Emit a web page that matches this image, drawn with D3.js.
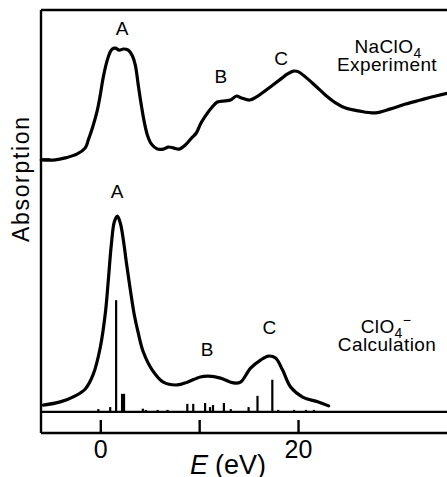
<!DOCTYPE html>
<html>
<head>
<meta charset="utf-8">
<script src="https://cdn.jsdelivr.net/npm/d3@7/dist/d3.min.js"></script>
<style>
  html, body { margin: 0; padding: 0; background: #fff; }
  svg { display: block; }
  text { font-family: "Liberation Sans", Arial, Helvetica, sans-serif; fill: #000; }
</style>
</head>
<body>
<svg id="chart" width="447" height="477"></svg>
<script>
// ---- Data ----
// Experimental spectrum (NaClO4): energy (eV) and absorption (arb. units)
const expE = [-5.97,-4.55,-3.54,-2.33,-1.52,-1.21,-0.81,-0.30,0.0,0.30,0.71,1.01,1.21,1.52,1.92,2.33,2.83,3.24,3.54,3.84,4.15,4.45,4.76,5.16,5.77,6.37,6.88,7.38,7.99,8.60,9.21,9.71,10.12,10.62,11.23,11.84,12.66,13.17,13.78,14.29,15.10,15.81,16.51,17.42,18.24,18.94,19.55,20.06,20.77,21.78,22.79,23.80,24.81,26.12,27.84,29.36,30.88,32.40,33.92,35.13];
const expA = [62.7,62.7,63.2,64.2,65.7,67.7,70.6,75.1,78.9,83.3,87.6,89.6,90.3,90.5,90.0,90.3,90.0,88.6,86.3,81.3,76.3,72.1,68.9,66.7,65.4,65.4,65.9,65.7,65.4,66.4,68.1,69.4,71.6,73.6,75.6,77.1,77.4,77.6,78.6,78.1,77.6,78.4,79.6,81.3,82.8,84.1,84.8,84.6,83.3,81.1,78.8,76.9,75.6,74.9,74.4,75.4,76.6,77.6,78.6,79.3];

// Calculated spectrum (ClO4-): broadened curve
const calcE = [-5.77,-4.05,-2.53,-1.52,-0.71,0.0,0.51,0.81,1.11,1.42,1.72,2.02,2.33,2.63,3.04,3.44,3.84,4.35,5.26,6.37,7.79,8.80,10.12,10.93,12.16,13.48,14.18,15.20,16.21,17.02,17.73,18.44,19.25,20.47,21.99,23.10];
const calcA = [1.7,2.5,4.0,5.7,9.4,16.1,24.6,32.8,41.5,47.3,48.7,47.0,42.8,37.3,30.3,24.1,19.6,14.9,10.4,7.4,6.7,7.4,8.7,8.9,8.4,7.2,7.4,10.9,12.9,13.9,13.4,10.4,6.2,3.7,2.5,1.5];

// Calculated transitions (stick spectrum)
const stickE = [-0.2,1.0,1.6,2.2,2.4,4.3,4.6,5.8,6.8,8.8,9.4,10.6,11.1,11.4,12.5,13.2,15.0,15.9,17.4,18.0,19.6,20.8,21.6];
const stickA = [0.7,1.2,27.8,4.5,4.5,0.8,0.5,0.5,0.5,2.0,2.0,2.2,1.2,1.7,2.2,0.7,1.2,4.0,8.0,0.5,0.5,0.5,0.5];

// Peak labels
const expPeakLabels = ["A","B","C"];
const expPeakE = [2.2, 12.2, 18.3];
const expPeakA = [93.7, 81.8, 86.3];
const calcPeakLabels = ["A","B","C"];
const calcPeakE = [1.7, 10.8, 17.1];
const calcPeakA = [53.2, 14.0, 19.5];

// Axis ticks
const xTicks = [0, 10, 20];
const xTickLabels = ["0", "", "20"];
const yTicks = [63];

// ---- Scales ----
const svg = d3.select("#chart");
const x = d3.scaleLinear().domain([-6, 35.07]).range([41, 447]);
const y = d3.scaleLinear().domain([-5.25, 100]).range([433, 10]);

// ---- Frame ----
const frame = svg.append("g").attr("fill", "none").attr("stroke", "#000").attr("stroke-width", 2.4);
frame.append("line").attr("x1", x(-6)).attr("x2", x(-6)).attr("y1", y(100)).attr("y2", y(-5.25));
frame.append("line").attr("x1", x(-6)).attr("x2", x(36)).attr("y1", y(100)).attr("y2", y(100));
frame.append("line").attr("x1", x(-6)).attr("x2", x(36)).attr("y1", y(-5.25)).attr("y2", y(-5.25));

// Bottom axis (ticks inward)
const xAxis = d3.axisBottom(x).tickValues(xTicks).tickSize(-13)
  .tickFormat((d, i) => xTickLabels[i]);
const gx = svg.append("g").attr("transform", `translate(0,${y(-5.25)})`).call(xAxis);
gx.select(".domain").remove();
gx.selectAll(".tick line").attr("stroke", "#000").attr("stroke-width", 2.4);
gx.selectAll(".tick text").attr("y", 25).attr("dy", 0)
  .style("font-size", "25px").style("font-family", "'Liberation Sans', Arial, sans-serif");

// Left axis tick (inward)
const yAxis = d3.axisLeft(y).tickValues(yTicks).tickSize(-9).tickFormat("");
const gy = svg.append("g").attr("transform", `translate(${x(-6)},0)`).call(yAxis);
gy.select(".domain").remove();
gy.selectAll(".tick line").attr("stroke", "#000").attr("stroke-width", 2);

// Axis titles
svg.append("text")
  .attr("transform", `translate(29,${(117 + 242) / 2}) rotate(-90)`)
  .attr("text-anchor", "middle")
  .attr("textLength", 125).attr("lengthAdjust", "spacing")
  .style("font-size", "23px")
  .text("Absorption");

const xt = svg.append("text").attr("y", 474).style("font-size", "27px");
xt.append("tspan").attr("x", 190).style("font-style", "italic").text("E");
xt.append("tspan").attr("x", 215).text("(eV)");

// ---- Stick spectrum baseline ----
svg.append("line").attr("x1", x(-6)).attr("x2", x(36)).attr("y1", y(0)).attr("y2", y(0))
  .attr("stroke", "#000").attr("stroke-width", 2.4);

svg.append("g").selectAll("line").data(stickE).join("line")
  .attr("x1", d => x(d)).attr("x2", d => x(d))
  .attr("y1", y(0)).attr("y2", (d, i) => y(stickA[i]))
  .attr("stroke", "#000").attr("stroke-width", 2.2);

// ---- Curves ----
const line = d3.line().x(d => x(d[0])).y(d => y(d[1])).curve(d3.curveCatmullRom.alpha(0.5));
svg.append("path").datum(expE.map((e, i) => [e, expA[i]]))
  .attr("d", line).attr("fill", "none").attr("stroke", "#000").attr("stroke-width", 3.2)
  .attr("stroke-linejoin", "round").attr("stroke-linecap", "round");
svg.append("path").datum(calcE.map((e, i) => [e, calcA[i]]))
  .attr("d", line).attr("fill", "none").attr("stroke", "#000").attr("stroke-width", 3.2)
  .attr("stroke-linejoin", "round").attr("stroke-linecap", "round");

// ---- Peak labels ----
svg.append("g").selectAll("text").data(expPeakLabels).join("text")
  .attr("x", (d, i) => x(expPeakE[i])).attr("y", (d, i) => y(expPeakA[i]))
  .attr("text-anchor", "middle").style("font-size", "19px").text(d => d);
svg.append("g").selectAll("text").data(calcPeakLabels).join("text")
  .attr("x", (d, i) => x(calcPeakE[i])).attr("y", (d, i) => y(calcPeakA[i]))
  .attr("text-anchor", "middle").style("font-size", "19px").text(d => d);

// ---- Series annotations ----
const t1 = svg.append("text").attr("x", 388).attr("y", 53).attr("text-anchor", "middle")
  .style("font-size", "19px").style("letter-spacing", "0.4px");
t1.append("tspan").text("NaClO");
t1.append("tspan").attr("dy", 5).style("font-size", "14px").text("4");
svg.append("text").attr("x", 387).attr("y", 71).attr("text-anchor", "middle")
  .style("font-size", "19px").style("letter-spacing", "0.4px").text("Experiment");

const t2 = svg.append("text").attr("x", 386).attr("y", 333).attr("text-anchor", "middle")
  .style("font-size", "19px").style("letter-spacing", "0.4px");
t2.append("tspan").text("ClO");
t2.append("tspan").attr("dy", 5).style("font-size", "14px").text("4");
t2.append("tspan").attr("dy", -13).style("font-size", "14px").text("\u2212");
svg.append("text").attr("x", 387).attr("y", 351).attr("text-anchor", "middle")
  .style("font-size", "19px").style("letter-spacing", "0.4px").text("Calculation");
</script>
</body>
</html>
